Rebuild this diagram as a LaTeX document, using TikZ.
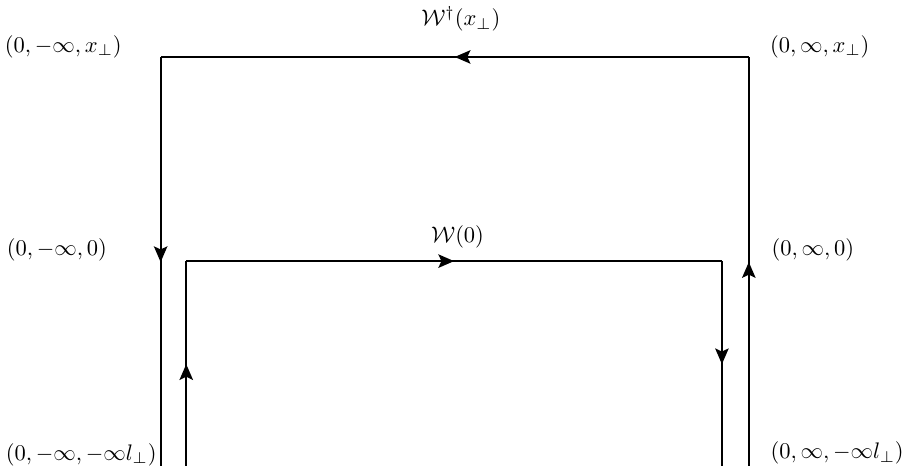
\documentclass[tikz,border=0pt]{standalone}
\usepackage{amsmath}
\usepackage{tikz}
\usetikzlibrary{
    arrows.meta
  , calc
  , decorations.markings
}

\tikzset{
  line/.style={line width=0.8pt},
  midarrow/.style={line,
    postaction={decorate},
    decoration={markings,
      mark=at position 0.5 with {\arrow{Stealth[length=7pt, width=6pt, inset=1.4pt]}}}}
}

\begin{document}
\begin{tikzpicture}
  \useasboundingbox (0,0) rectangle (14.125,-7.281);
  % Corners
  \coordinate (tl) at (2.51,-0.89);
  \coordinate (tr) at (11.70,-0.89);
  \coordinate (bl) at (2.51,-7.30);
  \coordinate (br) at (11.70,-7.30);
  \coordinate (itl) at (2.91,-4.08);
  \coordinate (itr) at (11.28,-4.08);
  \coordinate (ibl) at (2.91,-7.30);
  \coordinate (ibr) at (11.28,-7.30);
  % Outer Line
  \draw[midarrow] (br) -- (tr);
  \draw[midarrow] (tr) -- (tl);
  \draw[midarrow] (tl) -- (bl);
  % Inner Line
  \draw[midarrow] (ibl) -- (itl);
  \draw[midarrow] (itl) -- (itr);
  \draw[midarrow] (itr) -- (ibr);
  % Labels
  \node (wdag) at (7.20,-0.30) {$\mathcal{W}^{\dagger}(x_{\perp})$};
  \node (wzero) at (7.15,-3.70) {$\mathcal{W}(0)$};
  \node (ltop) at (0.99,-0.73) {$(0,-\infty,x_{\perp})$};
  \node (rtop) at (12.81,-0.73) {$(0,\infty,x_{\perp})$};
  \node (lmid) at (0.89,-3.91) {$(0,-\infty,0)$};
  \node (rmid) at (12.70,-3.91) {$(0,\infty,0)$};
  \node (lbot) at (1.27,-7.10) {$(0,-\infty,-\infty l_{\perp})$};
  \node (rbot) at (13.08,-7.08) {$(0,\infty,-\infty l_{\perp})$};
\end{tikzpicture}
\end{document}
